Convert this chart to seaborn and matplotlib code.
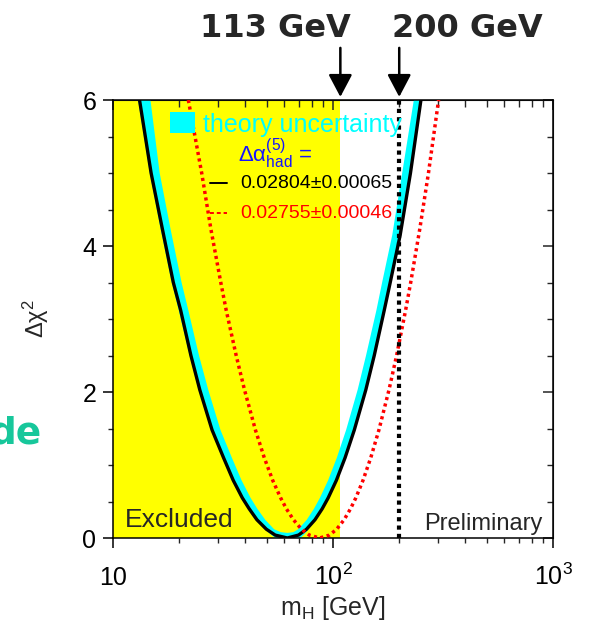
import matplotlib
matplotlib.use("Agg")
import matplotlib.pyplot as plt
import matplotlib.patches as mpatches
from matplotlib.lines import Line2D
from matplotlib.ticker import FixedLocator, FixedFormatter, MultipleLocator, NullFormatter
import numpy as np
import seaborn as sns

# fit with delta alpha_had = 0.02804 (black)
fit_mass = [13.2, 14.9, 16.8, 18.8, 20.3, 22.6, 24.8, 28.2, 31.8, 35.2, 38.7, 41.6,
            45.1, 49.8, 54.6, 62.0, 69.7, 75.8, 82.8, 89.3, 95.1, 103.6, 113.5,
            125.0, 141.0, 154.0, 171.0, 182.0, 202.0, 225.0, 251.0]
fit_dchi2 = [6.0, 5.0, 4.22, 3.5, 3.12, 2.5, 2.03, 1.48, 1.1, 0.79, 0.55, 0.40,
             0.25, 0.12, 0.04, 0.0, 0.04, 0.12, 0.25, 0.40, 0.55, 0.79, 1.1,
             1.48, 2.03, 2.5, 3.12, 3.5, 4.15, 5.0, 6.0]

# theory uncertainty band: lower and upper envelopes
band_lo_mass = [13.0, 14.7, 16.5, 18.5, 19.9, 22.3, 24.5, 27.9, 31.4, 34.7, 38.1, 41.0,
                44.4, 49.0, 53.0, 55.0, 71.0, 73.5, 76.5, 82.8, 89.3, 95.1, 103.6,
                113.5, 125.0, 141.0, 154.0, 171.0, 182.0, 202.0, 225.0, 251.0]
band_lo_dchi2 = [6.0, 5.0, 4.22, 3.5, 3.12, 2.5, 2.03, 1.48, 1.1, 0.79, 0.55, 0.40,
                 0.25, 0.12, 0.03, 0.0, 0.0, 0.04, 0.10, 0.25, 0.40, 0.55, 0.79,
                 1.1, 1.48, 2.03, 2.5, 3.12, 3.5, 4.15, 5.0, 6.0]
band_hi_mass = [14.8, 16.3, 18.3, 20.5, 22.0, 24.6, 27.1, 30.8, 34.7, 38.4, 42.2,
                45.3, 49.2, 54.0, 58.0, 62.0, 66.0, 69.5, 76.0, 81.9, 87.2, 95.0,
                104.1, 114.7, 129.4, 141.3, 157.5, 167.2, 185.9, 206.3, 233.0]
band_hi_dchi2 = [6.0, 5.0, 4.22, 3.5, 3.12, 2.5, 2.03, 1.48, 1.1, 0.79, 0.55,
                 0.40, 0.25, 0.12, 0.08, 0.07, 0.08, 0.12, 0.25, 0.40, 0.55, 0.79,
                 1.1, 1.48, 2.03, 2.5, 3.12, 3.5, 4.15, 5.0, 6.0]

# fit with delta alpha_had = 0.02755 (red dotted)
alt_mass = [22.0, 25.3, 27.9, 30.9, 32.7, 36.3, 39.6, 44.4, 48.7, 53.2, 57.8, 61.4,
            66.1, 71.9, 78.0, 87.0, 96.4, 103.9, 112.3, 120.1, 127.0, 136.9, 148.5,
            161.7, 179.7, 194.6, 213.8, 225.5, 247.6, 271.6, 302.0]
alt_dchi2 = [6.0, 5.0, 4.22, 3.5, 3.12, 2.5, 2.03, 1.48, 1.1, 0.79, 0.55, 0.40,
             0.25, 0.12, 0.04, 0.0, 0.04, 0.12, 0.25, 0.40, 0.55, 0.79, 1.1,
             1.48, 2.03, 2.5, 3.12, 3.5, 4.22, 5.0, 6.0]

excluded_limit = 108.0
vline_mass = 200.0
arrow_mass = [108.0, 200.0]
arrow_labels = ["113 GeV", "200 GeV"]
legend_values = ["0.02804\u00b10.00065", "0.02755\u00b10.00046"]
x_ticks = [10, 100, 1000]
x_tick_labels = ["10", r"$\mathregular{10}^{2}$", r"$\mathregular{10}^{3}$"]
y_ticks = [0, 2, 4, 6]

YELLOW = "#ffff00"
CYAN = "#00ffff"
RED = "#ff0000"
BLUE = "#1515ff"
TEAL = "#17c79b"

sns.set_style("ticks")
plt.rcParams["font.family"] = ["Liberation Sans", "DejaVu Sans"]
plt.rcParams["mathtext.fontset"] = "custom"
plt.rcParams["mathtext.rm"] = "Liberation Sans"
plt.rcParams["mathtext.it"] = "Liberation Sans:italic"
plt.rcParams["mathtext.bf"] = "Liberation Sans:bold"
plt.rcParams["mathtext.sf"] = "Liberation Sans"

fig = plt.figure(figsize=(5.92, 6.29), dpi=100)
ax = fig.add_axes([113 / 592, 1 - 538 / 629, 440 / 592, 438 / 629])
ax.set_xscale("log")
ax.set_xlim(10, 1000)
ax.set_ylim(0, 6)

ax.axvspan(10, excluded_limit, color=YELLOW, lw=0, zorder=0)
ax.fill(np.r_[band_lo_mass, band_hi_mass[::-1]],
        np.r_[band_lo_dchi2, band_hi_dchi2[::-1]],
        color=CYAN, lw=0, zorder=2)
sns.lineplot(x=fit_mass, y=fit_dchi2, ax=ax, color="black", lw=2.4,
             sort=False, estimator=None, zorder=3)
sns.lineplot(x=alt_mass, y=alt_dchi2, ax=ax, color=RED, lw=2.5,
             sort=False, estimator=None, zorder=4, linestyle=(0, (0.9, 1.0)))
ax.plot([vline_mass, vline_mass], [0, 6], color="black", lw=3,
        linestyle=(0, (1, 1)), zorder=4)

# axes cosmetics
for s in ax.spines.values():
    s.set_linewidth(1.1)
    s.set_color("black")
ax.xaxis.set_major_locator(FixedLocator(x_ticks))
ax.xaxis.set_major_formatter(FixedFormatter(x_tick_labels))
ax.xaxis.set_minor_formatter(NullFormatter())
ax.yaxis.set_major_locator(FixedLocator(y_ticks))
ax.yaxis.set_minor_locator(MultipleLocator(0.5))
ax.tick_params(which="major", direction="out", length=7, width=1.1,
               labelsize=18, colors="black", pad=5, top=False, right=False)
ax.tick_params(which="minor", direction="out", length=3.5, width=1.0,
               top=False, right=False)
ax.tick_params(axis="x", which="major", pad=26.5)
for lab in ax.get_xticklabels():
    lab.set_va("baseline")

secx = ax.secondary_xaxis("top")
secx.tick_params(which="major", direction="in", length=7, width=1.1, labeltop=False)
secx.tick_params(which="minor", direction="in", length=5, width=1.0)
secx.xaxis.set_major_formatter(NullFormatter())
secx.xaxis.set_minor_formatter(NullFormatter())
secy = ax.secondary_yaxis("right")
secy.yaxis.set_major_locator(FixedLocator(y_ticks))
secy.yaxis.set_minor_locator(MultipleLocator(0.5))
secy.tick_params(which="major", direction="in", length=7, width=1.1, labelright=False)
secy.tick_params(which="minor", direction="in", length=4, width=1.0)

ax.set_xlabel(r"m$_{\mathregular{H}}$ [GeV]", fontsize=18, va="top")
ax.xaxis.set_label_coords(0.5, -0.128)
ax.set_ylabel(r"$\Delta\mathrm{\chi}^{2}$", fontsize=17)
ax.yaxis.set_label_coords(-0.14, 0.5)

# legend drawn by hand, like the original
ax.add_patch(mpatches.Rectangle((0.1295, 0.925), 0.0565, 0.048, transform=ax.transAxes,
                                color=CYAN, lw=0, zorder=5))
ax.text(0.2045, 0.927, "theory uncertainty", transform=ax.transAxes, color=CYAN,
        fontsize=18, va="baseline", zorder=5)
ax.text(0.284, 0.858, r"$\mathrm{\Delta\alpha}^{(5)}_{\mathregular{had}}$ =", transform=ax.transAxes,
        color=BLUE, fontsize=16, va="baseline", zorder=5)
ax.add_line(Line2D([0.2205, 0.259], [0.8105, 0.8105], transform=ax.transAxes,
                   color="black", lw=1.4, zorder=5))
ax.text(0.2886, 0.8105, legend_values[0], transform=ax.transAxes, color="black",
        fontsize=14, va="center", zorder=5)
ax.add_line(Line2D([0.2205, 0.259], [0.742, 0.742], transform=ax.transAxes,
                   color=RED, lw=1.4, linestyle=(0, (2, 1.5)), zorder=5))
ax.text(0.2886, 0.742, legend_values[1], transform=ax.transAxes, color=RED,
        fontsize=14, va="center", zorder=5)

ax.text(0.027, 0.025, "Excluded", transform=ax.transAxes, fontsize=19,
        va="baseline", zorder=5)
ax.text(0.975, 0.018, "Preliminary", transform=ax.transAxes, fontsize=17,
        ha="right", va="baseline", zorder=5)

# arrows to the two Higgs masses
for m, lab in zip(arrow_mass, arrow_labels):
    ax.annotate("", xy=(m, 1.007), xycoords=("data", "axes fraction"),
                xytext=(m, 1.119), textcoords=("data", "axes fraction"),
                arrowprops=dict(arrowstyle="-|>,head_length=0.55,head_width=0.29",
                                mutation_scale=25, lw=1.8, color="black",
                                shrinkA=0, shrinkB=0),
                annotation_clip=False)
fig.text(275 / 592, 1 - 37 / 629, arrow_labels[0], ha="center", va="baseline",
         fontsize=23, fontweight="bold", family="DejaVu Sans")
fig.text(467 / 592, 1 - 37 / 629, arrow_labels[1], ha="center", va="baseline",
         fontsize=23, fontweight="bold", family="DejaVu Sans")

# cropped slide text at left edge
fig.text(42 / 592, 1 - 443 / 629, "de", ha="right", va="baseline", fontsize=27,
         fontweight="bold", color=TEAL, family="DejaVu Sans")

fig.savefig("out.png", dpi=100)
